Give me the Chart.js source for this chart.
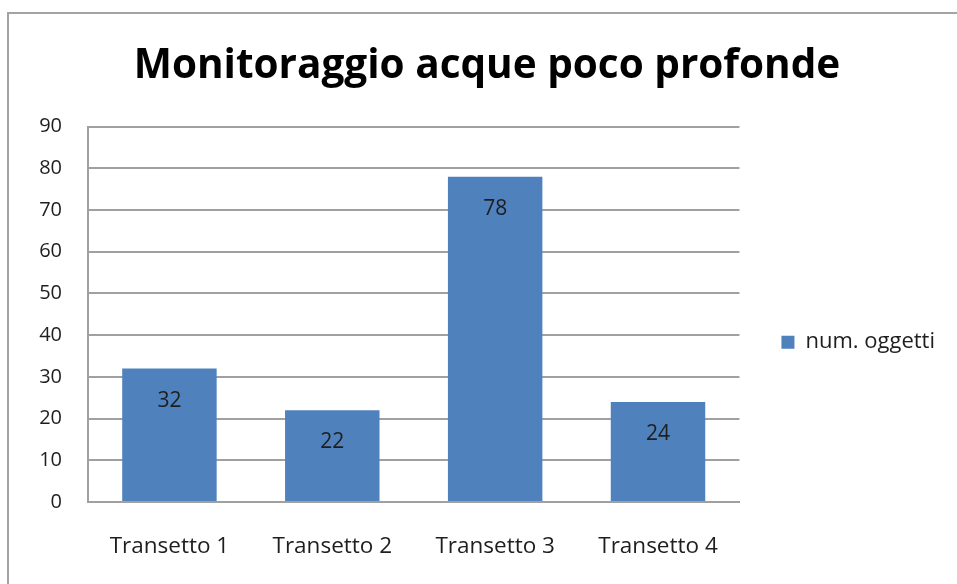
<!DOCTYPE html>
<html>
<head>
<meta charset="utf-8">
<script src="https://cdn.jsdelivr.net/npm/chart.js@4"></script>
<style>
  html, body { margin: 0; padding: 0; background: #fff; }
  #frame { position: absolute; left: 7px; top: 12px; width: 970px; height: 600px; border: 2px solid #a3a3a3; }
  #wrap { position: absolute; left: 0; top: 0; width: 957px; height: 584px; }
</style>
</head>
<body>
<div id="frame"></div>
<div id="wrap"><canvas id="chart"></canvas></div>
<script>
// dati
const categories = ['Transetto 1', 'Transetto 2', 'Transetto 3', 'Transetto 4'];
const numOggetti = [32, 22, 78, 24];
const yTicks = [0, 10, 20, 30, 40, 50, 60, 70, 80, 90];

const FONT = "'Open Sans', 'Noto Sans', sans-serif";
const gridColor = '#a0a0a0';

// etichette dei valori dentro le barre
const barLabels = {
    id: 'barLabels',
    afterDatasetsDraw(chart) {
        const ctx = chart.ctx;
        const meta = chart.getDatasetMeta(0);
        ctx.save();
        ctx.font = '21px ' + FONT;
        ctx.fillStyle = '#1e1e1e';
        ctx.textAlign = 'center';
        ctx.textBaseline = 'middle';
        meta.data.forEach((bar, i) => {
            ctx.fillText(chart.data.datasets[0].data[i], bar.x, bar.y + 32);
        });
        ctx.restore();
    }
};

new Chart(document.getElementById('chart'), {
    type: 'bar',
    data: {
        labels: categories,
        datasets: [{
            label: 'num. oggetti',
            data: numOggetti,
            backgroundColor: '#4f81bd',
            barPercentage: 0.58,
            categoryPercentage: 1
        }]
    },
    options: {
        responsive: true,
        maintainAspectRatio: false,
        animation: false,
        layout: { padding: { top: 0, right: 12, bottom: 0, left: 29 } },
        plugins: {
            tooltip: { enabled: false },
            title: {
                display: true,
                text: 'Monitoraggio acque poco profonde',
                color: '#000',
                font: { family: FONT, size: 40.5, weight: 'bold', lineHeight: 1.2 },
                padding: { top: 42, bottom: 36 }
            },
            legend: {
                position: 'right',
                title: { display: true, text: ' ', font: { size: 12 }, padding: { top: 0, bottom: 86 } },
                labels: {
                    boxWidth: 13,
                    boxHeight: 13,
                    padding: 42,
                    color: '#1e1e1e',
                    font: { family: FONT, size: 22 }
                }
            }
        },
        scales: {
            x: {
                grid: { display: false, drawTicks: false },
                border: { display: true, color: gridColor, width: 2 },
                ticks: { padding: 31, color: '#1e1e1e', font: { family: FONT, size: 22.5 } },
                afterFit(scale) { scale.height = 82; }
            },
            y: {
                min: 0,
                max: 90,
                afterBuildTicks(scale) { scale.ticks = yTicks.map(v => ({ value: v })); },
                grid: { color: gridColor, lineWidth: 2, drawTicks: false },
                border: { display: true, color: gridColor, width: 2 },
                ticks: { padding: 26, color: '#1e1e1e', font: { family: FONT, size: 20 } },
                afterFit(scale) { scale.width = 59; }
            }
        }
    },
    plugins: [barLabels]
});
</script>
</body>
</html>
